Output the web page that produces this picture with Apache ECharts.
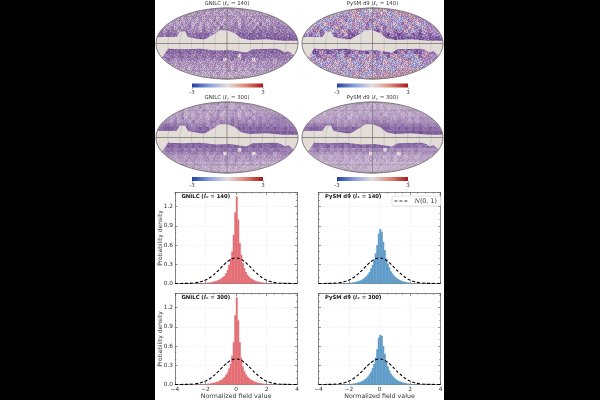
<!DOCTYPE html>
<html>
<head>
<meta charset="utf-8">
<style>
  html, body { margin: 0; width: 600px; height: 400px; background: #000; overflow: hidden; }
  #page { position: absolute; left: 155px; top: 0; width: 289px; height: 400px; background: #fff; }
  #chart { position: absolute; left: 0; top: 0; width: 600px; height: 400px; }
</style>
<script src="https://cdn.jsdelivr.net/npm/echarts@6/dist/echarts.min.js"></script>
</head>
<body>
<div id="page"></div>
<div id="chart"></div>
<script>
// Histogram bins are 0.1 wide; each array runs outward from zero.
const gnilc140Pos = [1.36,1.0,.63,.45,.32,.24,.18,.14,.11,.085,.07,.055,.045,.036,.03,.024,.02,.016,.013,.01,.008,.006,.005,.004,.003,.002,.002,.001];
const gnilc140Neg = [1.11,.76,.50,.39,.29,.21,.16,.12,.10,.08,.065,.055,.045,.037,.03,.025,.02,.016,.013,.011,.009,.007,.005,.004,.003,.002,.002,.001];
const pysm140Pos = [.85,.81,.65,.52,.39,.31,.25,.19,.155,.125,.10,.08,.065,.052,.042,.034,.027,.022,.017,.013,.01,.008,.006,.004,.003,.002];
const pysm140Neg = [.78,.60,.47,.37,.29,.235,.18,.145,.115,.095,.075,.06,.048,.04,.032,.025,.02,.016,.012,.009,.007,.005,.004,.003,.002];
const gnilc300Pos = [1.36,1.0,.66,.42,.28,.21,.16,.125,.10,.08,.065,.052,.043,.035,.028,.023,.018,.015,.012,.01,.008,.006,.005,.004,.003,.002,.001];
const gnilc300Neg = [1.08,.66,.45,.32,.25,.19,.15,.115,.095,.075,.062,.05,.042,.034,.028,.022,.018,.015,.012,.01,.008,.006,.005,.004,.003,.002,.001];
const pysm300Pos = [.775,.76,.60,.48,.36,.28,.22,.17,.135,.11,.09,.072,.058,.047,.038,.03,.024,.019,.015,.012,.009,.007,.005,.004,.003,.002];
const pysm300Neg = [.73,.55,.42,.32,.26,.20,.16,.125,.10,.08,.065,.052,.042,.034,.027,.021,.017,.013,.01,.008,.006,.005,.003,.002];

// Standard normal reference curve, sampled every 0.25.
const normalX = [-4,-3.75,-3.5,-3.25,-3,-2.75,-2.5,-2.25,-2,-1.75,-1.5,-1.25,-1,-.75,-.5,-.25,0,.25,.5,.75,1,1.25,1.5,1.75,2,2.25,2.5,2.75,3,3.25,3.5,3.75,4];
const normalY = [.0001,.0004,.001,.002,.004,.009,.018,.032,.054,.086,.130,.183,.242,.301,.352,.387,.399,.387,.352,.301,.242,.183,.130,.086,.054,.032,.018,.009,.004,.002,.001,.0004,.0001];

// Sky mask edges in projected units (-100..100 across the ellipse).
const maskNorthX = [-100,-97,-85,-71,-66,-59,-55,-38,-31,-20,-10,1,11,20,32,55,79,99,100];
const maskNorthY = [18,18,18,18,34,34,18,12,12,25,37,37,29,15,10,12,8,8,8];
const maskSouthX = [-100,-92,-87,-83,-62,-38,-15,4,27,36,69,76,81,86,93,100];
const maskSouthY = [-41,-41,-27,-15,-16,-15,-20,-18,-25,-16,-15,-18,-25,-21,-32,-32];

// Coarse amplitude tables, one row per 10 projected units from the north pole down.
const gnilc140Field = [
  "33333 33333 34243 43342 34233 33333 33333 33333",
  "33333 33334 24342 43424 32442 33333 33333 33333",
  "44444 44342 43424 34243 44234 42434 44444 44444",
  "44444 34243 42434 25342 43425 35243 42444 44444",
  "44443 42435 24342 43525 34525 43526 34445 44444",
  "44435 25345 34253 45263 45536 45364 53645 55555",
  "55465 53564 45364 53466 66465 64656 65646 55555",
  "66576 65676 56767 56776 77677 67767 57676 66666",
  "77777 77777 77777 77777 77777 77777 77777 77777",
  "77777 77777 77777 77777 77777 77777 77777 77777",
  "77777 77777 77777 77777 77777 77777 77777 77777",
  "77777 77776 77777 77777 77777 77777 77777 77777",
  "46676 67667 56756 67667 66766 76766 66766 76656",
  "55556 56656 46565 66566 56606 65665 66566 55555",
  "55465 35545 55453 54560 46436 45045 54535 55555",
  "44354 34434 44344 34434 43443 44344 34434 44444",
  "44443 34342 43424 34243 42434 34243 44444 44444",
  "33333 33232 43423 34232 43423 23432 33333 33333",
  "33333 33322 32322 32423 23232 22333 33333 33333",
  "33333 33333 32222 32322 22333 33333 33333 33333"
];
const pysm140Field = [
  "33333 33333 31412 35120 41305 33333 33333 33333",
  "33333 33324 14251 34412 35132 41333 33333 33333",
  "55555 54312 45521 31452 15342 41245 13555 55555",
  "55555 14245 31645 21536 54213 54241 63155 55555",
  "55524 41365 52143 54264 13645 21463 45214 55555",
  "55136 24451 36425 15362 46173 54426 13642 55555",
  "51463 74524 61375 62461 78564 37561 52473 55555",
  "64752 68367 56178 67586 87378 56876 47685 67555",
  "77677 87678 76787 78767 87878 78787 87787 68787",
  "77777 77777 77777 77777 77777 77777 77777 77777",
  "77777 77777 77777 77777 77777 77777 77777 77777",
  "78686 87767 87877 87868 78787 78876 87867 78777",
  "56487 36875 64786 37684 76387 58637 46875 36757",
  "53147 65356 41754 62413 56447 31562 44173 55555",
  "51452 36145 42316 45251 36414 25135 64245 55555",
  "54135 24451 34412 45314 24513 42451 32415 55555",
  "44412 45132 45513 24415 34241 45123 44444 44444",
  "33333 12441 34251 45312 45134 24333 33333 33333",
  "33333 33314 41245 13442 15433 33333 33333 33333",
  "33333 33333 32441 34213 33333 33333 33333 33333"
];
const gnilc300Field = [
  "33333 33333 33232 33423 32333 33333 33333 33333",
  "33333 33323 32432 33234 32342 33333 33333 33333",
  "33333 33423 33243 23432 33423 34233 33333 33333",
  "44444 33423 24332 43423 34324 23443 44444 44444",
  "55543 43524 34342 44534 35434 45345 44555 55555",
  "55443 53443 53443 55454 46454 53545 45455 55555",
  "55665 65665 45564 54466 66566 65656 65656 55555",
  "66777 67676 56767 56767 77677 67677 67676 67666",
  "77777 77777 77777 77777 77777 77777 77777 77777",
  "77777 77777 77777 77777 77777 77777 77777 77777",
  "77777 77777 77777 77777 77777 77777 77777 77777",
  "77777 77777 77777 77777 77777 77777 77777 77777",
  "56677 67676 76767 67676 76767 76767 66776 76656",
  "55566 56656 46565 66566 56606 65665 66566 55555",
  "55455 45545 55453 54550 45445 45045 45534 55555",
  "44344 34434 44344 34434 43443 44344 34434 44444",
  "33333 33343 43334 34334 33433 34333 33333 33333",
  "22222 32332 33323 33323 33323 23323 22222 22222",
  "22222 22222 32322 32322 23232 22222 22222 22222",
  "22222 22222 22222 32322 22222 22222 22222 22222"
];
const pysm300Field = [
  "22222 22222 23232 33232 23222 22222 22222 22222",
  "22222 22232 32323 32323 23232 22222 22222 22222",
  "33333 32323 23323 32323 33232 33233 33333 33333",
  "33333 32333 23332 33332 33423 33323 23333 33333",
  "44433 33334 33423 34343 44344 33434 34344 44444",
  "44343 34334 34343 44554 55454 44544 34344 44444",
  "45565 56565 45454 54566 76666 56565 56565 55555",
  "66777 67677 66767 67677 77777 66767 67676 67666",
  "77777 77777 77777 77777 77777 77777 78787 77777",
  "77777 77777 77777 77777 77777 77777 77777 77777",
  "77777 77777 77777 77777 77777 77777 77777 77777",
  "77777 77777 77777 77777 77777 77777 77777 77777",
  "45566 56756 67567 67676 76767 56766 66656 66646",
  "44456 45545 45454 55454 55505 45454 44544 44444",
  "44344 34343 34343 43440 34343 43043 43434 44444",
  "33233 23323 33233 23323 33323 32332 33233 33333",
  "33333 23232 33232 32323 23232 32333 33333 33333",
  "22222 22222 32322 23232 22322 22222 22222 22222",
  "22222 22222 22222 32322 22222 22222 22222 22222",
  "22222 22222 22222 22222 22222 22222 22222 22222"
];

// Small-scale structure laid over the coarse tables: r/b hot and cold pixels, d dark, w pale.
const grainTile = [
  "r.w.d.b..w.d.r.w..b.d.w.r.d.w.b",
  ".d.b.w.r.d..b.w.d.r..w.d.b.r.d.",
  "w.r..d.w.b.r.d..w.b.d.r.w..d.w.",
  ".b.d.r..d.w.b..r.d.w.b..d.r.b.d",
  "d.w.b.w.r.d.w.d.b.r.d.w.b.w.d.r",
  "..r.d..b.w.r.d.w..d.b.r..d.w.b.",
  "b.d.w.r.d..b.w.r.d.w..b.r.d.r.w",
  ".w.r.b.d.w.d.r..b.d.r.w.d.b..d.",
  "d..b.d.r.b.w.d.w.r.b.d.w.r.d.w.",
  ".r.w..d.w.r.d.b.d.w..r.d.b.w.b.",
  "w.d.b.r.d.b.w..r.b.d.w.b.d.r.d.",
  ".b.d.w..r.d.r.w.d.r.b.d.w..d.w.",
  "r..w.d.b.w.d.b.d.w.d.r.w.b.r.b.",
  ".d.r.b.d.w.b.r..b.r.w.d.r.d.w.d",
  "w.b.d.w.r.d.w.d.w.d.b..d.w.b.r.",
  ".d.w.r..d.b.r.b.r.w.d.b.r.d.w.d",
  "b.r.d.b.w.r.d.w..d.b.w.d.w.r.b.",
  ".w.b.d.r.d.w.b.d.r.d.r.b.d.w.d.",
  "d.d.w.b.r.b.d.r.w.b.w.d.r.b.r.w",
  ".r.b.d.w.d.w.d.b.d.r.b.w.d.w.d.",
  "w.d.r.w.b.r.b.w.r.w.d.r.d.b.d.r",
  ".b.w.d.r.d.d.r.d.b.d.w.b.w.r.w.",
  "d.r.b.w.b.w.b.w.d.r.b.d.r.d.b.d"
];
const grainColors = { r: '#bb2a30', b: '#2f47b4', d: '#4b2f80', w: '#f4eef0' };

const histTicks = { x: [-4, 4, 2], y: [0, 1.42, 0.3] };
const barRed = '#e46f75', barBlue = '#5f9cc8';
const ink = '#333333', frame = '#555555';
const mainFont = 'DejaVu Sans';

const purpleRamp = ['#ece4e8','#d8cbdc','#cbb8d2','#bda6c9','#b095c0','#a083b6','#8f70aa','#7f5f9f','#6f4f92','#614287'];
const speckleRamp = ['#ece2e8','#d8b8c8','#bcbce0','#cfa0b4','#a8a8d8','#b090c4','#9a78b4','#8460a8','#6e4c98','#5e3f8c'];

const mapPanels = [
  { field: gnilc140Field, ramp: purpleRamp,  grain: 0.3,  left: 156, top: 8,   width: 142, height: 71, barLeft: 192, barTop: 83.5, name: 'GNILC', ell: 140 },
  { field: pysm140Field,  ramp: speckleRamp, grain: 0.38, left: 302, top: 8,   width: 141, height: 71, barLeft: 337, barTop: 83.5, name: 'PySM d9', ell: 140 },
  { field: gnilc300Field, ramp: purpleRamp,  grain: 0.16, left: 156, top: 102, width: 142, height: 71, barLeft: 192, barTop: 177, name: 'GNILC', ell: 300 },
  { field: pysm300Field,  ramp: purpleRamp,  grain: 0.14, left: 302, top: 102, width: 141, height: 71, barLeft: 337, barTop: 177, name: 'PySM d9', ell: 300 }
];
const histPanels = [
  { pos: gnilc140Pos, neg: gnilc140Neg, color: barRed,  left: 175,   top: 192.5, name: 'GNILC', ell: 140, showY: true,  showX: false },
  { pos: pysm140Pos,  neg: pysm140Neg,  color: barBlue, left: 318.5, top: 192.5, name: 'PySM d9', ell: 140, showY: false, showX: false },
  { pos: gnilc300Pos, neg: gnilc300Neg, color: barRed,  left: 175,   top: 293.5, name: 'GNILC', ell: 300, showY: true,  showX: true },
  { pos: pysm300Pos,  neg: pysm300Neg,  color: barBlue, left: 318.5, top: 293.5, name: 'PySM d9', ell: 300, showY: false, showX: true }
];

// Paint the grain rows into a canvas that repeats as a fill pattern.
const grainCanvas = document.createElement('canvas');
grainCanvas.width = 31;
grainCanvas.height = grainTile.length;
const grainCtx = grainCanvas.getContext('2d');
grainTile.forEach((row, y) => {
  row.split('').forEach((ch, x) => {
    if (grainColors[ch]) {
      grainCtx.fillStyle = grainColors[ch];
      grainCtx.fillRect(x, y, 1, 1);
    }
  });
});

const grid = [], xAxis = [], yAxis = [], series = [], title = [];

function titleRich(weight, size) {
  return {
    i: { fontFamily: mainFont, fontStyle: 'italic', fontWeight: weight, fontSize: size, color: ink },
    s: { fontFamily: mainFont, fontStyle: 'italic', fontWeight: weight, fontSize: size - 1.5, color: ink, verticalAlign: 'bottom' }
  };
}

// Mollweide auxiliary angle for a given latitude.
function auxAngle(latDeg) {
  const lat = latDeg * Math.PI / 180;
  let t = lat;
  for (let k = 0; k < 30; k++) {
    t -= (2 * t + Math.sin(2 * t) - Math.PI * Math.sin(lat)) / (2 + 2 * Math.cos(2 * t));
  }
  return t;
}
const meridians = [-150,-120,-90,-60,-30,0,30,60,90,120,150];
const parallels = [-60,-30,0,30,60];

function addMap(p) {
  const g = grid.length;
  grid.push({ left: p.left, top: p.top, width: p.width, height: p.height, containLabel: false });
  xAxis.push({ type: 'value', gridIndex: g, min: -100, max: 100, show: false });
  yAxis.push({ type: 'value', gridIndex: g, min: -100, max: 100, show: false });
  const axes = { xAxisIndex: g, yAxisIndex: g, silent: true, clip: false, animation: false };

  // Field cells
  const cells = [];
  p.field.forEach((row, r) => {
    row.replace(/ /g, '').split('').forEach((ch, c) => cells.push([c, r, +ch]));
  });
  series.push(Object.assign({}, axes, {
    type: 'custom', z: 2, data: cells, progressive: 0,
    renderItem(params, api) {
      const c = api.value(0), r = api.value(1);
      const a = api.coord([-100 + c * 5, 100 - r * 10]);
      const b = api.coord([-100 + (c + 1) * 5, 100 - (r + 1) * 10]);
      return { type: 'rect', shape: { x: a[0], y: a[1], width: b[0] - a[0] + 0.3, height: b[1] - a[1] + 0.3 },
        style: { fill: p.ramp[api.value(2)] } };
    }
  }));

  // Grain, masked band, ring outside the ellipse, graticule and outline
  series.push(Object.assign({}, axes, {
    type: 'custom', z: 3, data: [[0, 0]],
    renderItem(params, api) {
      const children = [];
      const edge = [];
      for (let d = 0; d <= 360; d += 3) {
        const t = d * Math.PI / 180;
        edge.push(api.coord([100 * Math.cos(t), 100 * Math.sin(t)]));
      }
      children.push({ type: 'polygon', shape: { points: edge },
        style: { fill: { image: grainCanvas, repeat: 'repeat' }, opacity: p.grain } });

      const band = maskNorthX.map((x, i) => api.coord([x, maskNorthY[i]]));
      for (let i = maskSouthX.length - 1; i >= 0; i--) band.push(api.coord([maskSouthX[i], maskSouthY[i]]));
      children.push({ type: 'polygon', shape: { points: band }, style: { fill: '#e3ddd8' } });

      const ring = [api.coord([101.2, 0]), api.coord([101.2, 104]), api.coord([-101.2, 104]), api.coord([-101.2, -104]), api.coord([101.2, -104]), api.coord([101.2, 0])];
      for (let i = edge.length - 1; i >= 0; i--) ring.push(edge[i]);
      children.push({ type: 'polygon', shape: { points: ring }, style: { fill: '#ffffff' } });

      meridians.forEach(lon => {
        const pts = [];
        for (let d = -90; d <= 90; d += 5) {
          const t = d * Math.PI / 180;
          pts.push(api.coord([lon / 180 * 100 * Math.cos(t), 100 * Math.sin(t)]));
        }
        children.push({ type: 'polyline', shape: { points: pts },
          style: { fill: 'none', stroke: lon === 0 ? '#7a7575' : 'rgba(110,105,110,0.35)', lineWidth: lon === 0 ? 0.8 : 0.6 } });
      });
      parallels.forEach(lat => {
        const t = auxAngle(lat), y = 100 * Math.sin(t), x = 100 * Math.cos(t);
        children.push({ type: 'line', shape: { x1: api.coord([-x, y])[0], y1: api.coord([-x, y])[1], x2: api.coord([x, y])[0], y2: api.coord([x, y])[1] },
          style: { stroke: lat === 0 ? '#7a7575' : 'rgba(110,105,110,0.35)', lineWidth: lat === 0 ? 0.8 : 0.6 } });
      });
      children.push({ type: 'polyline', shape: { points: edge }, style: { fill: 'none', stroke: '#7d7878', lineWidth: 1 } });
      return { type: 'group', children };
    }
  }));

  // Map heading
  title.push({
    text: `${p.name} ({i|ℓ}{s|c} = ${p.ell})`,
    left: p.left + p.width / 2, top: p.top - 6.5, textAlign: 'center', padding: 0,
    textStyle: { fontFamily: mainFont, fontSize: 5.4, fontWeight: 'normal', color: ink, rich: titleRich('normal', 5.4) }
  });

  // Colour bar
  const cb = grid.length;
  grid.push({ left: p.barLeft, top: p.barTop, width: 71, height: 4 });
  xAxis.push({ type: 'value', gridIndex: cb, min: -3, max: 3, interval: 6,
    axisLine: { show: false }, axisTick: { show: true, length: 1.5, lineStyle: { color: frame, width: 0.5 } }, splitLine: { show: false },
    axisLabel: { fontFamily: mainFont, fontSize: 5.5, color: ink, margin: 2, formatter: v => String(v) } });
  yAxis.push({ type: 'value', gridIndex: cb, min: 0, max: 1, show: false });
  series.push({
    type: 'custom', xAxisIndex: cb, yAxisIndex: cb, silent: true, animation: false, z: 2, data: [[-3, 3]],
    renderItem(params, api) {
      const a = api.coord([api.value(0), 1]), b = api.coord([api.value(1), 0]);
      return { type: 'rect', shape: { x: a[0], y: a[1], width: b[0] - a[0], height: b[1] - a[1] },
        style: { fill: new echarts.graphic.LinearGradient(0, 0, 1, 0, [
          { offset: 0, color: '#233f9f' }, { offset: 0.25, color: '#8aa0de' }, { offset: 0.5, color: '#e4dcda' },
          { offset: 0.75, color: '#e08878' }, { offset: 1, color: '#a81616' } ]) } };
    }
  });
}

function addHist(p, index) {
  const g = grid.length;
  grid.push({ left: p.left, top: p.top, width: 122, height: 91 });
  const tickStyle = { color: frame, width: 0.6 };
  const common = {
    type: 'value', gridIndex: g,
    axisLine: { show: true, onZero: false, lineStyle: { color: frame, width: 0.7 } },
    axisTick: { show: true, inside: true, length: 2.5, lineStyle: tickStyle },
    minorTick: { show: true, length: 1.2, lineStyle: tickStyle }
  };
  const xCfg = { min: histTicks.x[0], max: histTicks.x[1], interval: histTicks.x[2] };
  const yCfg = { min: histTicks.y[0], max: histTicks.y[1], interval: histTicks.y[2] };
  const ax = xAxis.length, ay = yAxis.length;

  xAxis.push(Object.assign({}, common, xCfg, {
    position: 'bottom',
    minorTick: Object.assign({}, common.minorTick, { splitNumber: 4 }),
    splitLine: { show: true, lineStyle: { color: '#ececec', width: 0.6, type: 'dashed' } },
    name: p.showX ? 'Normalized field value' : '', nameLocation: 'middle', nameGap: 8.5, nameMoveOverlap: false,
    nameTextStyle: { fontFamily: mainFont, fontSize: 6.3, color: ink },
    axisLabel: { show: p.showX, fontFamily: mainFont, fontSize: 5.8, color: ink, margin: 2, formatter: v => String(v).replace('-', '\u2212') }
  }));
  xAxis.push(Object.assign({}, common, xCfg, {
    position: 'top', minorTick: Object.assign({}, common.minorTick, { splitNumber: 4 }),
    splitLine: { show: false }, axisLabel: { show: false }
  }));
  yAxis.push(Object.assign({}, common, yCfg, {
    position: 'left',
    minorTick: Object.assign({}, common.minorTick, { splitNumber: 3 }),
    splitLine: { show: true, lineStyle: { color: '#ececec', width: 0.6, type: 'dashed' } },
    name: p.showY ? 'Probability density' : '', nameLocation: 'middle', nameGap: 12, nameRotate: 90, nameMoveOverlap: false,
    nameTextStyle: { fontFamily: mainFont, fontSize: 6, color: ink },
    axisLabel: { show: p.showY, showMaxLabel: false, fontFamily: mainFont, fontSize: 5.8, color: ink, margin: 2, formatter: v => v.toFixed(1) }
  }));
  yAxis.push(Object.assign({}, common, yCfg, {
    position: 'right', minorTick: Object.assign({}, common.minorTick, { splitNumber: 3 }),
    splitLine: { show: false }, axisLabel: { show: false }
  }));

  const bars = [];
  p.neg.forEach((v, i) => bars.push([-0.05 - 0.1 * i, v]));
  p.pos.forEach((v, i) => bars.push([0.05 + 0.1 * i, v]));
  bars.sort((a, b) => a[0] - b[0]);
  series.push({
    type: 'bar', xAxisIndex: ax, yAxisIndex: ay, data: bars, barWidth: 1.9, silent: true, animation: false, z: 2,
    itemStyle: { color: p.color }
  });
  series.push({
    type: 'line', name: index === 1 ? 'normal' : 'normal' + index, xAxisIndex: ax, yAxisIndex: ay,
    data: normalX.map((x, i) => [x, normalY[i]]), smooth: true, showSymbol: false, symbol: 'none',
    silent: true, animation: false, z: 4, color: '#000', lineStyle: { color: '#000', width: 1.1, type: [3, 2] }
  });
  title.push({
    text: `${p.name} ({i|ℓ}{s|c} = ${p.ell})`,
    left: p.left + 6.5, top: p.top + 2, padding: 0,
    textStyle: { fontFamily: mainFont, fontSize: 5.3, fontWeight: 'bold', color: '#111', rich: titleRich('bold', 5.3) }
  });
}

mapPanels.forEach(addMap);
histPanels.forEach(addHist);

const chart = echarts.init(document.getElementById('chart'), null, { renderer: 'canvas' });
chart.setOption({
  animation: false,
  backgroundColor: 'transparent',
  title, grid, xAxis, yAxis, series,
  legend: {
    data: [{ name: 'normal', itemStyle: { opacity: 0 } }], left: 392, top: 196, orient: 'horizontal',
    itemWidth: 15, itemHeight: 6, itemGap: 4, padding: [2, 4, 2, 2],
    backgroundColor: '#fff', borderColor: '#cccccc', borderWidth: 0.6, borderRadius: 2,
    selectedMode: false, z: 6, lineStyle: { width: 0.8 },
    formatter: () => '{n|N}(0, 1)',
    textStyle: { fontFamily: 'DejaVu Sans', fontSize: 6.3, color: ink,
      rich: { n: { fontFamily: 'DejaVu Serif', fontStyle: 'italic', fontSize: 6.3, color: ink } } }
  }
});
</script>
</body>
</html>
